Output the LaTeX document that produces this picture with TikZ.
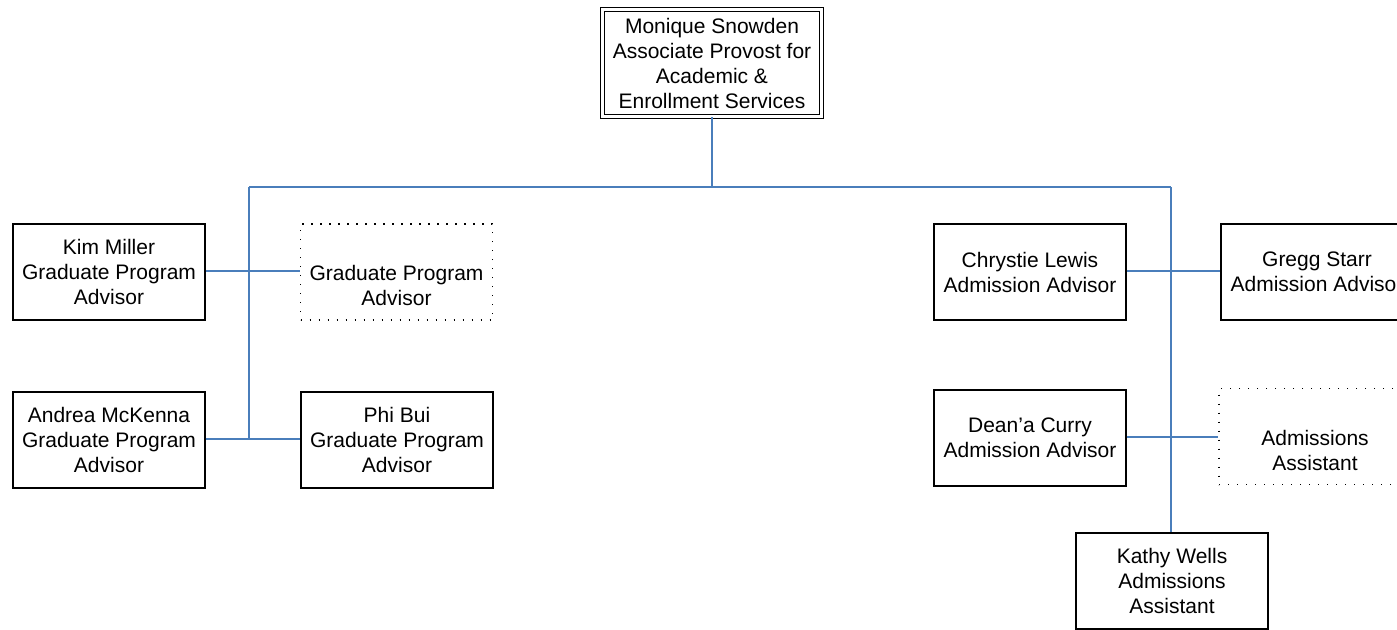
\documentclass[tikz,border=0pt]{standalone}
\usepackage{fontspec}
\setmainfont{Liberation Sans}
\begin{document}
\begin{tikzpicture}[x=1pt,y=-1pt,
  box/.style={draw=black,line width=1.3pt,minimum width=192pt,minimum height=96pt,align=center,inner sep=0pt,
    font=\fontsize{21}{25}\selectfont},
  vacant/.style={box,draw=black,line width=1.2pt,dash pattern=on 1.2pt off 7.8pt},
  link/.style={draw={rgb,255:red,74;green,126;blue,187},line width=1.6pt}]
\useasboundingbox (0,0) rectangle (1397,629);
\clip (0,0) rectangle (1397,629);
\node[box,double,double distance=3pt,line width=1.1pt,minimum width=219pt,minimum height=107pt] (ms) at (712,63)
  {Monique Snowden\\Associate Provost for\\Academic \&\\Enrollment Services};
\node[box] (km) at (109,272) {Kim Miller\\Graduate Program\\Advisor};
\node[vacant] (gpa) at (396.5,272) {\strut\\Graduate Program\\Advisor};
\node[box] (am) at (109,440) {Andrea McKenna\\Graduate Program\\Advisor};
\node[box] (pb) at (397,440) {Phi Bui\\Graduate Program\\Advisor};
\node[box] (cl) at (1030,272) {Chrystie Lewis\\Admission Advisor};
\node[box] (gs) at (1317,272) {Gregg Starr\\Admission Advisor};
\node[box] (dc) at (1030,438) {Dean’a Curry\\Admission Advisor};
\node[vacant] (aa) at (1315,436.5) {\strut\\Admissions\\Assistant};
\node[box] (kw) at (1172,581) {Kathy Wells\\Admissions\\Assistant};
\coordinate (top) at (712,187);
\coordinate (lt) at (249,187);
\coordinate (rt) at (1171,187);
\coordinate (lj1) at (249,271);
\coordinate (lj2) at (249,439);
\coordinate (rj1) at (1171,271);
\coordinate (rj2) at (1171,437);
\path[link] (ms.south) -- (top);
\path[link] (lt) -- (rt);
\path[link] (lt) -- (lj2);
\path[link] (rt) -- (kw.north -| rt);
\path[link] (km.east |- lj1) -- (gpa.west |- lj1);
\path[link] (am.east |- lj2) -- (pb.west |- lj2);
\path[link] (cl.east |- rj1) -- (gs.west |- rj1);
\path[link] (dc.east |- rj2) -- (aa.west |- rj2);
\end{tikzpicture}
\end{document}
